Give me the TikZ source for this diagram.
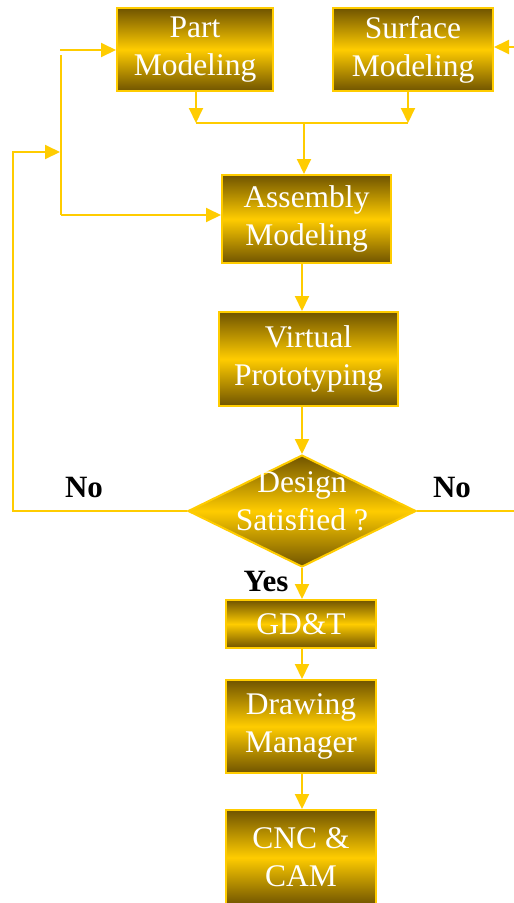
\documentclass[tikz,border=0pt]{standalone}
\usepackage{fontspec}
\setmainfont{Liberation Serif}
\usetikzlibrary{shapes.geometric,arrows.meta}
\definecolor{gold}{HTML}{FFCC00}
\definecolor{golddark}{HTML}{705400}
\tikzset{
  box/.style={draw=gold, line width=2pt, top color=golddark, bottom color=golddark,
    middle color=gold, inner sep=0pt, text=white, align=center,
    font=\fontsize{31.5}{38}\selectfont},
  boxtext/.style={text=white, align=center, inner sep=0pt,
    font=\fontsize{31.5}{38}\selectfont},
  flow/.style={draw=gold, line width=2pt},
  arr/.style={flow, -{Triangle[length=15pt,width=14pt]}},
  answer/.style={font=\fontsize{31}{37}\selectfont\bfseries, text=black, inner sep=0pt},
}
\begin{document}
\begin{tikzpicture}[x=1pt,y=-1pt]
\useasboundingbox (0,0) rectangle (514,903);
\clip (0,0) rectangle (514,903);

% process boxes
\node[box, minimum width=156pt, minimum height=83pt] (part) at (195,49.5) {Part\\Modeling};
\node[box, minimum width=160pt, minimum height=83pt] (surf) at (413,49.5) {Surface\\Modeling};
\node[box, minimum width=169pt, minimum height=88pt] (asm) at (306.5,219) {Assembly\\Modeling};
\node[box, minimum width=179pt, minimum height=94pt] (virt) at (308.5,359) {Virtual\\Prototyping};
\node[box, diamond, minimum width=228pt, minimum height=112pt] (dec) at (302,511) {};
\node[boxtext] (dectext) at (302,501) {Design\\Satisfied ?};
\node[box, minimum width=150pt, minimum height=48pt] (gdt) at (301,624) {GD\&T};
\node[box, minimum width=150pt, minimum height=93pt] (drw) at (301,726.5) {Drawing\\Manager};
\node[box, minimum width=150pt, minimum height=95pt] (cnc) at (301,857.5) {CNC \&\\CAM};

% decision labels
\node[answer] (noL) at (84,487) {No};
\node[answer] (noR) at (452,487) {No};
\node[answer] (yes) at (266,581) {Yes};

% helper points for the connectors
\coordinate (spine) at (302,0);
\coordinate (joinL) at (196,123);
\coordinate (joinR) at (408,123);
\coordinate (joinM) at (304,123);
\coordinate (railTop) at (61,55);
\coordinate (railAsm) at (61,215);
\coordinate (partIn) at (60,50);
\coordinate (loopL) at (13,511);
\coordinate (loopTop) at (13,152);
\coordinate (loopIn) at (60,152);
\coordinate (loopR) at (520,511);
\coordinate (surfIn) at (520,47);

% merge of part and surface models
\draw[arr] (part.south -| joinL) -- (joinL);
\draw[arr] (surf.south -| joinR) -- (joinR);
\draw[flow] (joinL) -- (joinR);
\draw[arr] (joinM) -- (asm.north -| joinM);

% main chain
\draw[arr] (asm.south -| spine) -- (virt.north -| spine);
\draw[arr] (virt.south -| spine) -- (dec.north);
\draw[arr] (dec.south) -- (gdt.north -| dec.south);
\draw[arr] (gdt.south -| spine) -- (drw.north -| spine);
\draw[arr] (drw.south -| spine) -- (cnc.north -| spine);

% left feedback rail
\draw[flow] (railTop) -- (railAsm);
\draw[arr] (railAsm) -- (asm.west |- railAsm);
\draw[arr] (partIn) -- (part.west |- partIn);
\draw[arr] (dec.west) -- (loopL) -- (loopTop) -- (loopIn);

% right feedback
\draw[flow] (dec.east) -- (loopR);
\draw[arr] (surfIn) -- (surf.east |- surfIn);
\end{tikzpicture}
\end{document}
